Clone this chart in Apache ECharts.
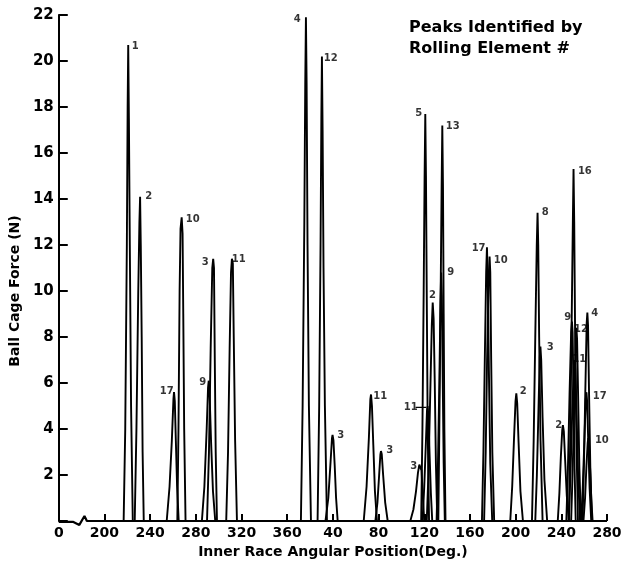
<!DOCTYPE html>
<html>
<head>
<meta charset="utf-8">
<script src="https://cdn.jsdelivr.net/npm/echarts@6/dist/echarts.min.js"></script>
<style>html,body{margin:0;padding:0;background:#fff}#c{width:631px;height:567px}</style>
</head>
<body>
<div id="c"></div>
<script>
// x values: unwrapped inner-race angle (deg); 2nd revolution = angle + 360
const xTickLabels = ['0','200','240','280','320','360','40','80','120','160','200','240','280'];
const yTicks = [2,4,6,8,10,12,14,16,18,20,22];

// first revolution
const peak1   = [[216.8,0],[218.2,4],[219.6,12],[220.3,18],[220.8,20.7],[221.4,17.5],[222.2,12],[223.3,5],[224.8,0]];
const peak2   = [[226.5,0],[228,4],[229.6,10],[230.6,13],[231.2,14.1],[231.8,12],[232.6,8],[233.4,3],[234.4,0]];
const peak17a = [[254.5,0],[257,1.5],[259,3.5],[260.4,5.3],[260.9,5.6],[261.6,5.2],[262.5,3.5],[263.6,1.5],[265,0]];
const peak10a = [[263.8,0],[264.8,4],[265.8,10],[266.6,12.7],[267.6,13.2],[268.4,12.5],[269,9],[269.8,4],[271,0]];
const peak9a  = [[285.3,0],[287.5,1.5],[289.5,4],[290.7,5.8],[291.3,6.1],[292,5.6],[293.3,3.5],[295,1.3],[297,0]];
const peak3a  = [[289.8,0],[291.5,3],[293,7.5],[294.4,11],[295.2,11.4],[295.9,11],[296.6,7],[297.4,3],[298.5,0]];
const peak11a = [[306.6,0],[308.2,3],[309.6,7.5],[310.8,10.8],[311.6,11.4],[312.4,11.2],[313.2,8],[314.4,3.5],[316,0]];
const peak4a  = [[372,0],[373.5,5],[375,13],[375.8,19],[376.4,21.9],[377,19],[377.8,12],[379,5],[380.8,0]];
const peak12a = [[386.6,0],[388,5],[389.2,12],[389.9,17.5],[390.4,20.2],[391,17],[391.8,11],[393,5],[394.8,0]];
// second revolution
const peak3b  = [[393.5,0],[396,1],[398,2.6],[399.2,3.6],[399.7,3.74],[400.5,3.5],[401.6,2.4],[402.8,1],[404.2,0]];
const peak11b = [[427,0],[429.5,1.5],[431.5,3.6],[432.8,5.3],[433.4,5.5],[434.2,5],[435.4,3.3],[436.8,1.3],[438.6,0]];
const peak3c  = [[437.2,0],[439,0.8],[440.5,2],[441.6,2.9],[442.1,3.04],[442.8,2.9],[444,2],[445.8,0.8],[448,0]];
const peak3d  = [[467.8,0],[470.5,0.5],[472.8,1.3],[474.5,2.1],[475.7,2.45],[476.8,2.5],[477.6,2.2],[478.6,1.2],[480,0]];
const peak5   = [[477.3,0],[478.4,4],[479.5,10],[480.3,15],[480.9,17.7],[481.5,15],[482.3,9],[483,4],[484.2,0]];
const peak11c = [[478.5,0],[480,1.5],[481.5,3.5],[482.4,4.8],[482.9,5.0],[483.6,4.6],[484.6,3],[485.8,1.2],[487,0]];
const peak2b  = [[482.2,0],[483.6,2],[485,5],[486.6,8.5],[487.4,9.5],[488.2,8.8],[489.2,6],[490.2,2.5],[491.4,0]];
const peak9b  = [[490.8,0],[492,2.5],[493.2,6],[494.2,9.5],[494.8,10.8],[495.4,9.8],[496.2,6],[497,2.5],[498,0]];
const peak13  = [[492.3,0],[493.2,4],[494.2,9],[495.2,14.5],[495.8,17.2],[496.4,14.5],[497,9],[497.6,4],[498.6,0]];
const peak17b = [[530.5,0],[531.8,3],[533,7],[534.2,10.8],[534.9,11.9],[535.6,10.5],[536.6,6.5],[537.8,2.5],[539.5,0]];
const peak10b = [[532.4,0],[533.8,3],[535,7],[536.4,10.6],[537.2,11.5],[537.8,10.8],[538.6,7],[539.6,3],[541.2,0]];
const peak2c  = [[555.3,0],[557,1.5],[558.6,3.6],[559.9,5.2],[560.6,5.55],[561.4,5.1],[562.6,3.4],[564.2,1.3],[566.4,0]];
const peak8   = [[574.3,0],[575.8,3.5],[577.2,8],[578.5,12],[579.2,13.4],[579.8,12],[580.6,8],[581.8,3.5],[583.6,0]];
const peak3e  = [[577.2,0],[578.6,2],[580,4.8],[581.1,7.1],[581.7,7.58],[582.4,7],[583.6,4.5],[585.2,1.8],[587.6,0]];
const peak2d  = [[596.9,0],[598.3,1.2],[599.6,2.8],[600.8,3.95],[601.4,4.17],[602.2,3.9],[603.4,2.6],[604.8,1.1],[606.5,0]];
const peak9c  = [[604.4,0],[605.8,2.3],[607.2,5.5],[608.6,8.2],[609.3,8.67],[609.9,8.2],[610.7,5.5],[611.6,2.3],[612.6,0]];
const peak16  = [[606.6,0],[607.8,3.5],[608.9,8],[610.1,13],[610.7,15.3],[611.3,13],[612.1,8],[613.2,3.5],[614.6,0]];
const peak11d = [[606.5,0],[608,2],[609.6,4.8],[611,6.7],[611.6,7.0],[612.3,6.6],[613.4,4.6],[614.8,1.8],[616.4,0]];
const peak12b = [[608.6,0],[610,2.3],[611.4,5.2],[612.6,7.9],[613.2,8.4],[613.8,7.9],[614.8,5.2],[615.8,2.3],[617.2,0]];
const peak4b  = [[618.6,0],[619.8,2.4],[621,5.6],[622.2,8.6],[622.8,9.06],[623.4,8.5],[624.3,5.5],[625.4,2.3],[626.8,0]];
const peak17c = [[617.4,0],[618.8,1.5],[620.2,3.5],[621.4,5.3],[622,5.6],[622.6,5.2],[623.6,3.4],[624.8,1.4],[626.2,0]];
const peak10c = [[619.4,0],[620.8,1],[622,2.4],[623.1,3.4],[623.6,3.6],[624.2,3.4],[625.2,2.3],[626.2,1],[627.4,0]];

// rolling element # labels
const labelText = ['1','2','10','3','11','17','9','4','12','3','11','3','3','11','5','13','2','9','17','10','8','16','9','12','4','3','2','2','11','17','10'];
const labelX    = [226.9,238.7,277.2,288.2,317.5,254.6,286,368.8,398.1,406.9,441.5,449.8,470.8,468.2,475.2,505,487.3,503.2,527.6,547,586,620.6,605.7,617.2,629.3,590.4,566.7,597.8,615.7,633.7,635.5];
const labelY    = [20.65,14.1,13.13,11.23,11.38,5.62,6.01,21.83,20.12,3.74,5.43,3.06,2.36,4.94,17.73,17.17,9.83,10.8,11.86,11.35,13.4,15.19,8.84,8.35,9.03,7.55,5.65,4.17,7.03,5.43,3.52];
const leader11  = [[472.4,4.94],[481.6,4.94]];
// broken-axis baseline
const baseline  = [[160,-0.04],[172.8,-0.04],[178,-0.17],[182.5,0.22],[184.6,0],[640,0]];

const peaks = [peak1,peak2,peak17a,peak10a,peak9a,peak3a,peak11a,peak4a,peak12a,peak3b,peak11b,peak3c,peak3d,peak5,peak11c,peak2b,peak9b,peak13,peak17b,peak10b,peak2c,peak8,peak3e,peak2d,peak9c,peak16,peak11d,peak12b,peak4b,peak17c,peak10c];

const FONT = 'DejaVu Sans';
const chart = echarts.init(document.getElementById('c'), null, {renderer:'canvas'});
const series = peaks.map(d => ({
  type:'line', data:d, symbol:'none', silent:true, animation:false,
  lineStyle:{color:'#000', width:1.9}
}));
series.push({type:'line', data:baseline, symbol:'none', clip:false, animation:false,
  lineStyle:{color:'#000', width:2.2}, z:5});
series.push({type:'line', data:leader11, symbol:'none', animation:false,
  lineStyle:{color:'#000', width:1.2}});
series.push({
  type:'scatter', symbolSize:0, animation:false, z:6,
  data: labelText.map((t,i) => [labelX[i], labelY[i], t]),
  label:{show:true, position:'inside', formatter:p => p.value[2],
    color:'#000', fontFamily:FONT, fontSize:10, fontWeight:'bold'}
});

chart.setOption({
  backgroundColor:'#fff',
  animation:false,
  title:{
    text:'Peaks Identified by\nRolling Element #',
    left:404, top:12,
    textStyle:{fontFamily:FONT, fontSize:16, fontWeight:'bold', color:'#000', lineHeight:21}
  },
  grid:{left:58, right:24, top:15, bottom:46, containLabel:false},
  xAxis:{
    type:'value', min:160, max:640, interval:40,
    name:'Inner Race Angular Position(Deg.)', nameLocation:'middle', nameGap:22,
    nameTextStyle:{fontFamily:FONT, fontSize:14, fontWeight:'bold', color:'#000'},
    axisLine:{show:false},
    axisTick:{show:true, inside:true, length:7, lineStyle:{color:'#000', width:2}},
    splitLine:{show:false},
    axisLabel:{
      margin:5, fontFamily:FONT, fontSize:14, fontWeight:'bold', color:'#000',
      formatter: v => xTickLabels[Math.round((v-160)/40)]
    }
  },
  yAxis:{
    type:'value', min:0, max:22, interval:2,
    name:'Ball Cage Force (N)', nameLocation:'middle', nameGap:28,
    nameTextStyle:{fontFamily:FONT, fontSize:14, fontWeight:'bold', color:'#000', padding:[0,46,0,0]},
    axisLine:{show:true, lineStyle:{color:'#000', width:2}},
    axisTick:{show:true, inside:true, length:9, lineStyle:{color:'#000', width:2}},
    splitLine:{show:false},
    axisLabel:{
      margin:5, fontFamily:FONT, fontSize:15, fontWeight:'bold', color:'#000',
      formatter: v => (yTicks.indexOf(v) >= 0 ? String(v) : '')
    }
  },
  series: series
});
</script>
</body>
</html>
